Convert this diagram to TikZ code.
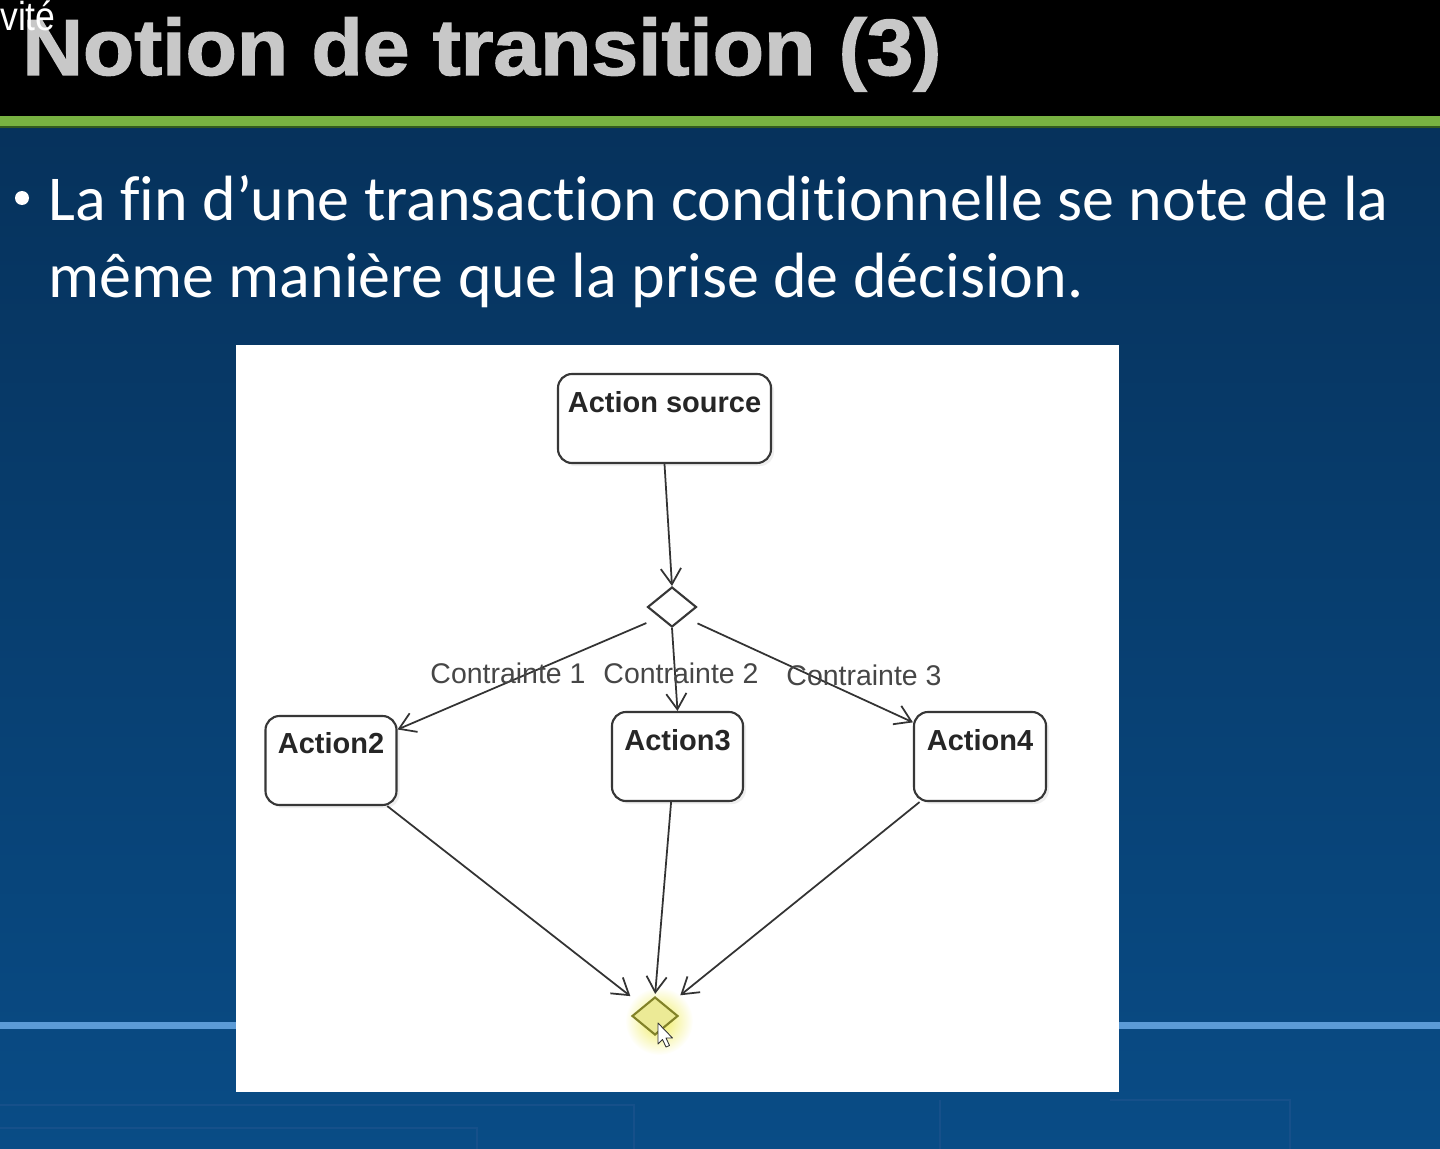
\documentclass[tikz,border=0pt]{standalone}
\usepackage{fontspec}
\setmainfont{Carlito}[Ligatures=NoCommon]
\newfontfamily\diagfont{Liberation Sans}
\newfontfamily\headfont{Liberation Sans Bold}[FakeBold=1.6]
\usetikzlibrary{arrows.meta,shapes.geometric,shadows}
\newdimen\upx
\upx=0.02cm
\definecolor{slidebluetop}{RGB}{6,50,92}
\definecolor{slidebluebot}{RGB}{9,76,134}
\definecolor{barred}{RGB}{120,178,66}
\definecolor{bardark}{RGB}{50,90,30}
\definecolor{rule}{RGB}{92,155,214}
\definecolor{faint}{RGB}{22,80,138}
\definecolor{titlegray}{RGB}{200,200,200}
\definecolor{boxline}{RGB}{55,55,55}
\definecolor{labelgray}{RGB}{70,70,70}
\definecolor{glow}{RGB}{240,236,90}
\definecolor{mergefill}{RGB}{236,234,150}
\definecolor{mergeline}{RGB}{130,130,40}
\begin{document}
\begin{tikzpicture}[x=0.02cm,y=-0.02cm,
  actbox/.style={draw=boxline, line width=1.2pt, rounded corners=14\upx, fill=white,
    minimum height=89\upx, inner sep=0pt,
    drop shadow={shadow xshift=3\upx, shadow yshift=-3\upx, opacity=0.12}},
  acttext/.style={anchor=base, inner sep=0pt, text=black!85,
    font=\diagfont\bfseries\fontsize{16.5}{19}\selectfont},
  guard/.style={anchor=base, inner sep=0pt, text=labelgray,
    font=\diagfont\fontsize{16.2}{19}\selectfont},
  choice/.style={diamond, draw=boxline, line width=1.2pt, fill=white, inner sep=0pt,
    minimum width=49\upx, minimum height=40\upx},
  flow/.style={draw=black!80, line width=1pt,
    -{Straight Barb[length=9pt,width=11.5pt,line width=1pt]}},
  bullettext/.style={anchor=base west, inner sep=0pt, text=white,
    font=\fontsize{36.4}{44}\selectfont}]

\useasboundingbox (0,0) rectangle (1440,1149);

% slide background
\shade[top color=slidebluetop, bottom color=slidebluebot] (0,127) rectangle (1440,1149);
\fill[black] (0,0) rectangle (1440,116);
\fill[barred] (0,116) rectangle (1440,127);
\fill[bardark] (0,126) rectangle (1440,128);
\fill[rule] (0,1022) rectangle (1440,1029);

% faint decoration near the bottom edge
\draw[faint, line width=1.2pt] (0,1105) -- (634,1105) -- (634,1149);
\draw[faint, line width=1.2pt] (0,1128) -- (477,1128) -- (477,1149);
\draw[faint, line width=1pt] (940,1100) -- (940,1149);
\draw[faint, line width=1pt] (1110,1100) -- (1290,1100) -- (1290,1149);

% title bar
\node[anchor=base west, inner sep=0pt, text=titlegray, xscale=1.055,
  font=\headfont\fontsize{45.3}{50}\selectfont] (title) at (22,75) {Notion de transition (3)};
\node[anchor=base west, inner sep=0pt, text=white, xscale=0.88,
  font=\diagfont\fontsize{23}{26}\selectfont] (crumb) at (0,31) {vité};

% bullet point
\fill[white] (22,198) circle (7);
\node[bullettext] (line1) at (48,220) {La fin d’une transaction conditionnelle se note de la};
\node[bullettext] (line2) at (48,297) {même manière que la prise de décision.};

% diagram panel
\fill[white] (236,345) rectangle (1119,1092);

% actions
\node[actbox, minimum width=213\upx] (src) at (664.5,418.5) {};
\node[actbox, minimum width=131\upx] (a2) at (331,760.5) {};
\node[actbox, minimum width=131\upx] (a3) at (677.5,756.5) {};
\node[actbox, minimum width=132\upx] (a4) at (980,756.5) {};
\node[acttext] (srct) at (664.5,412) {Action source};
\node[acttext] (a2t) at (331,753) {Action2};
\node[acttext] (a3t) at (677.5,750) {Action3};
\node[acttext] (a4t) at (980,750) {Action4};

% decision node
\node[choice] (d1) at (672,607) {};

% merge node, highlighted under the pointer
\shade[inner color=glow, outer color=white] (659,1021) circle (34);
\node[choice, draw=mergeline, fill=mergefill, minimum width=46\upx, minimum height=38\upx] (d2) at (655,1016) {};

% transitions out of the decision
\draw[flow] (src.south) -- (d1.north);
\draw[flow, shorten <=14\upx] (d1.south west) -- (a2.25);
\draw[flow] (d1.south) -- (a3.north);
\draw[flow, shorten <=14\upx] (d1.south east) -- (a4.153);

% guards
\node[guard] (g1) at (508,683) {Contrainte 1};
\node[guard] (g2) at (681,683) {Contrainte 2};
\node[guard] (g3) at (864,685) {Contrainte 3};

% transitions into the merge
\draw[flow, shorten >=16\upx] (a2.-39) -- (d2.north west);
\draw[flow, shorten >=2\upx] (a3.-98) -- (d2.north);
\draw[flow, shorten >=17\upx] (a4.-143) -- (d2.north east);

% mouse pointer
\filldraw[fill=white, draw=black!80, line width=0.5pt, line join=round]
  (658,1023) -- ++(0,21) -- ++(4.5,-4.5) -- ++(3.5,7.5) -- ++(3.5,-1.5)
  -- ++(-3.5,-7.5) -- ++(6.5,0) -- cycle;

\end{tikzpicture}
\end{document}
